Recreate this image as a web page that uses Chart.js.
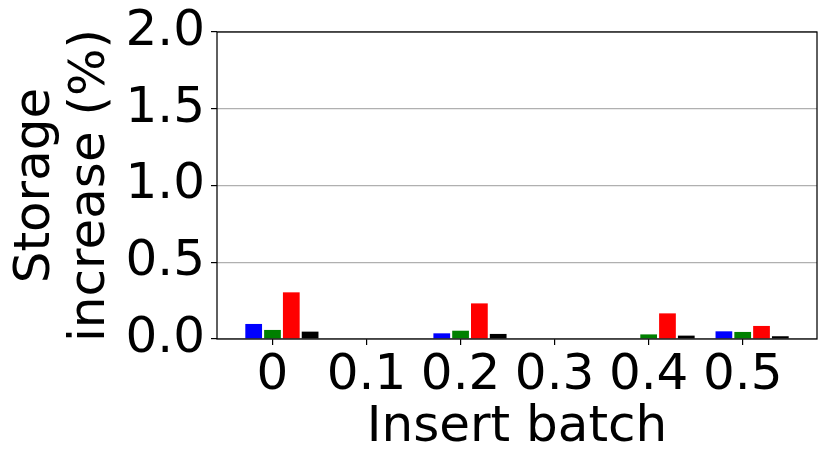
<!DOCTYPE html>
<html>
<head>
<meta charset="utf-8">
<script src="https://cdn.jsdelivr.net/npm/chart.js@4/dist/chart.umd.min.js"></script>
<style>
  html, body { margin: 0; padding: 0; background: #fff; }
  #wrap { width: 830px; height: 469px; }
</style>
</head>
<body>
<div id="wrap"><canvas id="chart" width="830" height="469"></canvas></div>
<script>
// values
const batches = ['0', '0.1', '0.2', '0.3', '0.4', '0.5'];
const blueVals = [0.098, 0, 0.037, 0, 0, 0.05];
const greenVals = [0.059, 0, 0.054, 0, 0.03, 0.046];
const redVals = [0.304, 0, 0.232, 0, 0.167, 0.085];
const blackVals = [0.048, 0, 0.033, 0, 0.022, 0.018];
const yTicks = [0, 0.5, 1.0, 1.5, 2.0];

const seriesVals = [blueVals, greenVals, redVals, blackVals];
const seriesColors = ['#0000ff', '#008000', '#ff0000', '#000000'];
const BAR_W = 0.2; // one bar, in category units (bar i sits at x + (i - 1) * w)

// matplotlib-style autoscale: data span plus 5% margin each side
const lo = -1.5 * BAR_W;
const hi = (batches.length - 1) + 2.5 * BAR_W;
const pad = 0.05 * (hi - lo);

Chart.defaults.font.family = "'DejaVu Sans', sans-serif";
Chart.defaults.color = '#000';

const frame = {
  id: 'frame',
  afterDatasetsDraw(chart) {
    const { ctx, chartArea: a } = chart;
    ctx.save();
    ctx.strokeStyle = '#000';
    ctx.lineWidth = 1.25;
    ctx.strokeRect(a.left, a.top, a.right - a.left, a.bottom - a.top);
    ctx.restore();
  },
};

new Chart(document.getElementById('chart'), {
  type: 'bar',
  data: {
    datasets: seriesVals.map((vals, s) => ({
      label: 'series ' + (s + 1),
      data: vals.map((v, i) => ({ x: i + (s - 1) * BAR_W, y: v })),
      backgroundColor: seriesColors[s],
      borderWidth: 0,
      grouped: false,
      categoryPercentage: 1,
      barPercentage: 0.89,
    })),
  },
  options: {
    responsive: false,
    animation: false,
    devicePixelRatio: 1,
    layout: { padding: { top: 32, right: 13, left: 0, bottom: 0 } },
    plugins: { legend: { display: false }, tooltip: { enabled: false } },
    scales: {
      x: {
        type: 'linear',
        offset: false,
        bounds: 'data',
        min: lo - pad,
        max: hi + pad,
        afterBuildTicks: (scale) => { scale.ticks = batches.map((_, i) => ({ value: i })); },
        afterFit: (scale) => {
          scale.height = 130;
          scale.paddingLeft = 0;
          scale.paddingRight = 0;
        },
        border: { display: false },
        grid: { offset: false, drawOnChartArea: false, tickColor: '#000', tickLength: 6, lineWidth: 1.2 },
        ticks: {
          autoSkip: false,
          maxRotation: 0,
          padding: 1,
          font: { size: 50 },
          callback: (v, i) => batches[i],
        },
        title: { display: true, text: 'Insert batch', font: { size: 50 }, padding: { top: 0, bottom: 11 } },
      },
      y: {
        min: 0,
        max: 2,
        afterBuildTicks: (scale) => { scale.ticks = yTicks.map((v) => ({ value: v })); },
        afterFit: (scale) => {
          scale.width = 217;
          scale.paddingTop = 0;
          scale.paddingBottom = 0;
        },
        border: { display: false },
        grid: { color: '#b0b0b0', tickColor: '#000', tickLength: 6, lineWidth: 1.2 },
        ticks: {
          padding: 6,
          font: { size: 50 },
          callback: (v) => v.toFixed(1),
        },
        title: {
          display: true,
          text: ['Storage', 'increase (%)'],
          font: { size: 50, lineHeight: 1.1 },
          padding: { top: 9, bottom: 0 },
        },
      },
    },
  },
  plugins: [frame],
});
</script>
</body>
</html>
